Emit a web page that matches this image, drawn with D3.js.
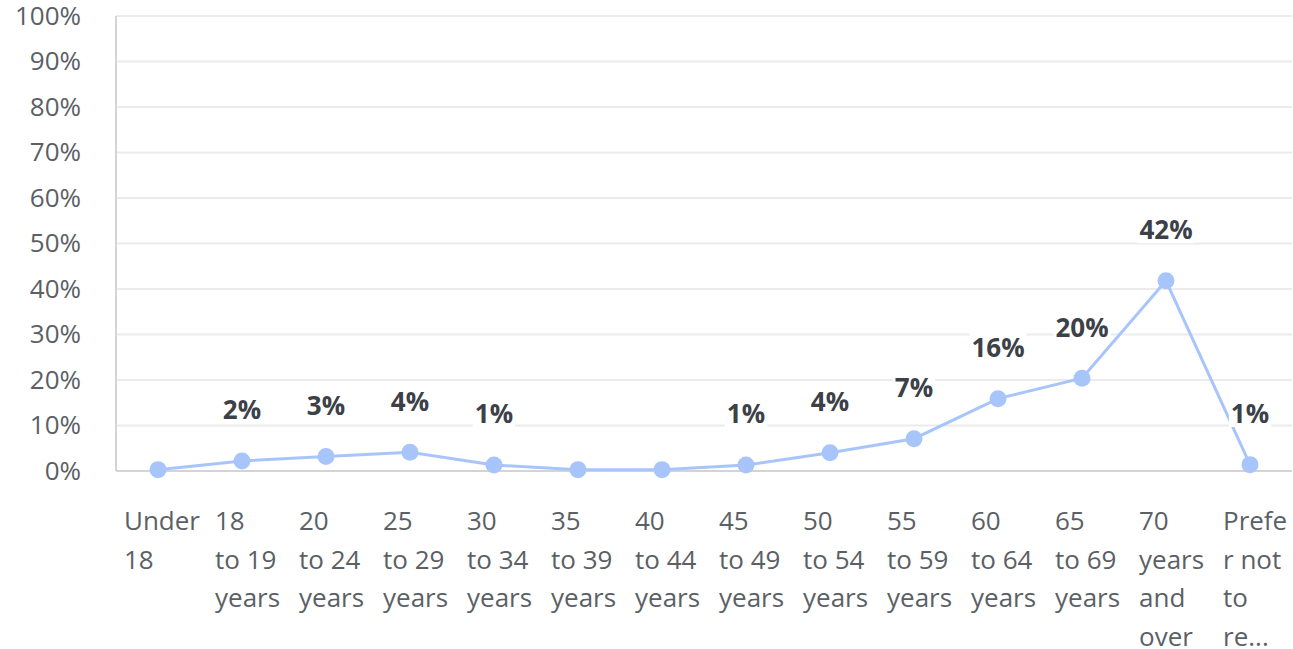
<!DOCTYPE html>
<html>
<head>
<meta charset="utf-8">
<script src="https://cdn.jsdelivr.net/npm/d3@7"></script>
<style>
  body { margin: 0; background: #fff; }
  svg { display: block; font-family: "Open Sans", Roboto, "Noto Sans", sans-serif; }
</style>
</head>
<body>
<svg class="svg_age" width="1293" height="649"></svg>
<script>
// age groups, wrapped the way the original shows them
var categories = ["Under 18", "18 to 19 years", "20 to 24 years", "25 to 29 years", "30 to 34 years",
    "35 to 39 years", "40 to 44 years", "45 to 49 years", "50 to 54 years", "55 to 59 years",
    "60 to 64 years", "65 to 69 years", "70 years and over", "Prefer not to re..."];
var categoryLines = [["Under", "18"], ["18", "to 19", "years"], ["20", "to 24", "years"], ["25", "to 29", "years"],
    ["30", "to 34", "years"], ["35", "to 39", "years"], ["40", "to 44", "years"], ["45", "to 49", "years"],
    ["50", "to 54", "years"], ["55", "to 59", "years"], ["60", "to 64", "years"], ["65", "to 69", "years"],
    ["70", "years", "and", "over"], ["Prefe", "r not", "to", "re..."]];
var values = [0.3, 2.2, 3.2, 4.1, 1.3, 0.3, 0.3, 1.3, 4.0, 7.1, 15.9, 20.4, 41.8, 1.4];
var yTicks = [0, 10, 20, 30, 40, 50, 60, 70, 80, 90, 100];

var svg = d3.select(".svg_age"),
    margin = {top: 16, right: 1, bottom: 178, left: 116},
    width = +svg.attr("width") - margin.left - margin.right,
    height = +svg.attr("height") - margin.top - margin.bottom,
    g = svg.append("g").attr("transform", "translate(" + margin.left + "," + margin.top + ")");

var x = d3.scaleBand().domain(categories).range([0, width]);
var y = d3.scaleLinear().domain([0, 100]).range([height, 0]);

// gridlines
g.append("g")
    .selectAll("line")
    .data(yTicks.filter(function(d) { return d > 0; }))
    .enter().append("line")
    .attr("x1", 0).attr("x2", width)
    .attr("y1", function(d) { return y(d); })
    .attr("y2", function(d) { return y(d); })
    .style("stroke", "#ebebeb")
    .style("stroke-width", 2);

// y axis
var yAxis = d3.axisLeft(y).tickValues(yTicks).tickSize(0).tickPadding(35)
    .tickFormat(function(d) { return d + "%"; });
var yg = g.append("g").attr("class", "y axis").call(yAxis);
yg.select(".domain").remove();
yg.selectAll("text").style("font-size", "26px").style("font-family", "'Open Sans', sans-serif")
    .style("fill", "#5b5f66");

// axis frame
g.append("line").attr("x1", 0).attr("x2", 0).attr("y1", 0).attr("y2", height)
    .style("stroke", "#d4d4d4").style("stroke-width", 2);
g.append("line").attr("x1", 0).attr("x2", width).attr("y1", height).attr("y2", height)
    .style("stroke", "#d4d4d4").style("stroke-width", 2);

// x labels
var xl = g.append("g").attr("class", "x axis")
    .selectAll("text")
    .data(categories)
    .enter().append("text")
    .style("font-size", "26px")
    .style("fill", "#5b5f66")
    .attr("y", height + 59);
xl.each(function(d, i) {
    var t = d3.select(this);
    categoryLines[i].forEach(function(line, j) {
        t.append("tspan").attr("dy", j === 0 ? 0 : 38.5).text(line);
    });
    var w = 0;
    t.selectAll("tspan").each(function() { w = Math.max(w, this.getComputedTextLength()); });
    var left = x(d) + x.bandwidth() / 2 - 27 - Math.max(0, w - 69);
    t.selectAll("tspan").attr("x", left);
});

// line + points
var line = d3.line()
    .x(function(d, i) { return x(categories[i]) + x.bandwidth() / 2; })
    .y(function(d) { return y(d); });

g.append("path")
    .datum(values)
    .attr("d", line)
    .style("fill", "none")
    .style("stroke", "#a8c5fb")
    .style("stroke-width", 3);

g.selectAll(".dot")
    .data(values)
    .enter().append("circle")
    .attr("class", "dot")
    .attr("cx", function(d, i) { return x(categories[i]) + x.bandwidth() / 2; })
    .attr("cy", function(d) { return y(d); })
    .attr("r", 8.5)
    .style("fill", "#a8c5fb");

// value labels with white backing
var labels = g.selectAll(".lbl")
    .data(values.map(function(v, i) { return {v: v, c: categories[i]}; })
        .filter(function(d) { return Math.round(d.v) > 0; }))
    .enter().append("g")
    .attr("class", "lbl")
    .attr("transform", function(d) {
        return "translate(" + (x(d.c) + x.bandwidth() / 2) + "," + (y(d.v) - 51) + ")";
    });
labels.append("rect").style("fill", "#fff");
labels.append("text")
    .attr("text-anchor", "middle")
    .attr("dy", "0.36em")
    .style("font-size", "26px")
    .style("font-weight", "bold")
    .style("fill", "#3c4148")
    .text(function(d) { return Math.round(d.v) + "%"; });
labels.each(function() {
    var b = d3.select(this).select("text").node().getBBox();
    d3.select(this).select("rect")
        .attr("x", b.x - 2).attr("y", b.y + 4).attr("width", b.width + 4).attr("height", b.height - 8);
});
</script>
</body>
</html>
